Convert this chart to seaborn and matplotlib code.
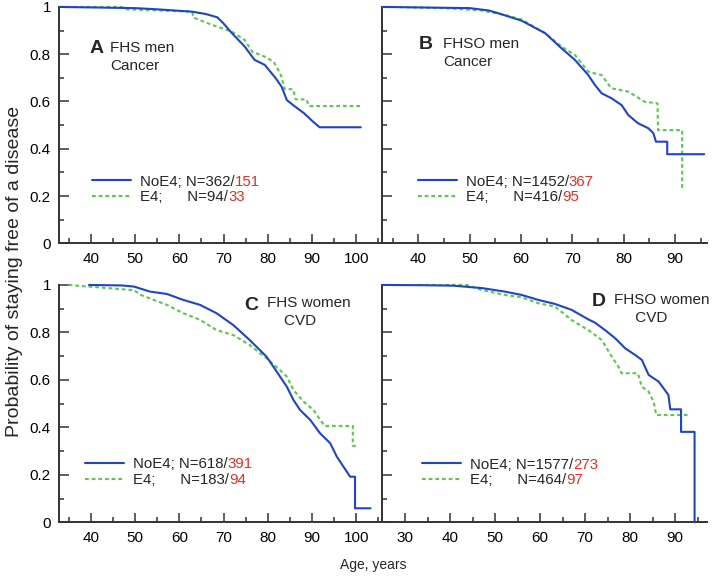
import numpy as np
import pandas as pd
import matplotlib
matplotlib.use("Agg")
import matplotlib.pyplot as plt
from matplotlib.ticker import MultipleLocator, FuncFormatter
from matplotlib.lines import Line2D
import seaborn as sns

# Kaplan-Meier curves (age, share still free of the disease);
# a repeated age is a vertical drop
a_noe4_age = [33.0, 50.0, 55.0, 62.9, 66.0, 68.6, 70.0, 71.9, 74.8, 77.0, 79.3, 81.8, 83.1, 84.3,
              85.7, 88.2, 90.2, 91.7, 101.0]
a_noe4_s = [1.0, 0.995, 0.99, 0.98, 0.97, 0.956, 0.93, 0.889, 0.832, 0.776, 0.755, 0.698, 0.663, 0.606,
            0.585, 0.55, 0.515, 0.491, 0.491]
a_e4_age = [33.0, 47.0, 48.0, 62.9, 63.2, 67.3, 71.9, 74.8, 75.8, 76.5, 79.3, 81.3, 82.3, 83.1,
            83.8, 85.7, 86.3, 88.7, 89.3, 101.0]
a_e4_s = [1.0, 1.0, 0.99, 0.98, 0.955, 0.925, 0.895, 0.86, 0.83, 0.81, 0.79, 0.768, 0.735, 0.705,
          0.652, 0.652, 0.609, 0.609, 0.581, 0.581]

b_noe4_age = [32.9, 50.0, 53.7, 55.6, 60.1, 64.7, 67.9, 70.5, 73.1, 74.4, 75.7, 77.6, 79.6, 80.9,
              82.8, 84.8, 85.8, 86.3, 88.5, 88.5, 95.7]
b_noe4_s = [1.0, 0.995, 0.985, 0.973, 0.942, 0.889, 0.825, 0.776, 0.712, 0.67, 0.635, 0.614, 0.585, 0.543,
            0.508, 0.487, 0.466, 0.43, 0.43, 0.377, 0.377]
b_e4_age = [35.0, 45.0, 52.3, 56.9, 60.1, 64.7, 67.9, 70.5, 73.1, 75.7, 77.6, 80.9, 84.1, 86.6,
            86.7, 91.4, 91.4]
b_e4_s = [1.0, 0.995, 0.985, 0.966, 0.947, 0.889, 0.832, 0.797, 0.726, 0.712, 0.656, 0.642, 0.599, 0.592,
          0.479, 0.479, 0.233]

c_noe4_age = [39.6, 47.0, 49.8, 53.4, 57.2, 60.9, 64.7, 68.4, 72.2, 75.9, 79.7, 82.0, 84.3, 85.8,
              87.3, 89.6, 91.8, 94.1, 95.6, 97.1, 98.6, 99.7, 99.7, 103.2]
c_noe4_s = [1.0, 0.998, 0.993, 0.972, 0.962, 0.937, 0.916, 0.881, 0.831, 0.768, 0.698, 0.635, 0.571, 0.515,
            0.473, 0.431, 0.375, 0.333, 0.276, 0.234, 0.192, 0.192, 0.059, 0.059]
c_e4_age = [35.0, 44.4, 49.8, 51.3, 57.2, 60.9, 64.7, 68.4, 72.2, 75.9, 79.7, 82.7, 84.3, 85.8,
            88.1, 90.3, 92.8, 99.2, 99.2, 100.2]
c_e4_s = [1.0, 0.986, 0.978, 0.958, 0.916, 0.881, 0.853, 0.81, 0.789, 0.747, 0.691, 0.642, 0.614, 0.557,
          0.508, 0.473, 0.406, 0.406, 0.322, 0.322]

d_noe4_age = [25.0, 33.3, 40.7, 47.0, 52.2, 55.9, 59.6, 63.3, 67.0, 70.7, 72.2, 74.4, 76.7, 78.9,
              81.1, 82.6, 84.1, 85.2, 86.3, 87.4, 88.5, 88.9, 91.3, 91.3, 94.3, 94.3]
d_noe4_s = [1.0, 0.999, 0.997, 0.987, 0.972, 0.958, 0.937, 0.92, 0.895, 0.855, 0.841, 0.81, 0.775, 0.733,
            0.705, 0.684, 0.621, 0.607, 0.593, 0.565, 0.536, 0.476, 0.476, 0.381, 0.381, 0.0]
d_e4_age = [33.0, 43.7, 47.0, 52.2, 55.9, 59.6, 63.3, 67.0, 70.7, 73.7, 75.9, 77.4, 78.1, 81.7,
            82.6, 84.1, 85.2, 85.8, 92.9]
d_e4_s = [1.0, 1.0, 0.979, 0.958, 0.948, 0.923, 0.909, 0.852, 0.81, 0.768, 0.698, 0.656, 0.628, 0.628,
          0.571, 0.55, 0.508, 0.452, 0.452]

panels = [
    dict(letter="A", title="FHS men\nCancer", xlim=(32.9, 105.8), ticks=(40, 100),
         noe4=(a_noe4_age, a_noe4_s), e4=(a_e4_age, a_e4_s),
         n_noe4=("362/", "151"), n_e4=("94/", "33"),
         lab_xy=(0.095, 0.825), title_xy=(0.158, 0.855), leg_xy=(0.102, 0.228)),
    dict(letter="B", title="FHSO men\nCancer", xlim=(32.9, 96.2), ticks=(40, 90),
         noe4=(b_noe4_age, b_noe4_s), e4=(b_e4_age, b_e4_s),
         n_noe4=("1452/", "367"), n_e4=("416/", "95"),
         lab_xy=(0.112, 0.842), title_xy=(0.188, 0.872), leg_xy=(0.110, 0.228)),
    dict(letter="C", title="FHS women\n    CVD", xlim=(32.9, 105.8), ticks=(40, 100),
         noe4=(c_noe4_age, c_noe4_s), e4=(c_e4_age, c_e4_s),
         n_noe4=("618/", "391"), n_e4=("183/", "94"),
         lab_xy=(0.573, 0.915), title_xy=(0.645, 0.952), leg_xy=(0.080, 0.212)),
    dict(letter="D", title="FHSO women\n     CVD", xlim=(24.9, 97.0), ticks=(30, 90),
         noe4=(d_noe4_age, d_noe4_s), e4=(d_e4_age, d_e4_s),
         n_noe4=("1577/", "273"), n_e4=("464/", "97"),
         lab_xy=(0.646, 0.93), title_xy=(0.715, 0.967), leg_xy=(0.122, 0.21)),
]

blue = "#1f45c4"
green = "#5dc84e"
red = "#d8352a"
axis_col = "#333333"
dash = (0, (1.8, 1.4))

sns.set_theme(style="ticks")
plt.rcParams["font.family"] = ["Liberation Sans", "DejaVu Sans"]

fig = plt.figure(figsize=(7.13, 5.78), dpi=100)
boxes = [
    [0.0832, 0.579, 0.4526, 0.409],
    [0.5358, 0.579, 0.4554, 0.409],
    [0.0832, 0.0964, 0.4526, 0.4106],
    [0.5358, 0.0964, 0.4554, 0.4106],
]

for i, (p, box) in enumerate(zip(panels, boxes)):
    ax = fig.add_axes(box)
    ax.set_facecolor("none")

    sns.lineplot(x=p["noe4"][0], y=p["noe4"][1], ax=ax, color=blue, lw=1.5,
                 estimator=None, sort=False, clip_on=False, zorder=4)
    sns.lineplot(x=p["e4"][0], y=p["e4"][1], ax=ax, color=green, lw=1.5,
                 linestyle=dash, estimator=None, sort=False, clip_on=False, zorder=3)

    ax.set_xlim(*p["xlim"])
    ax.set_ylim(0, 1)
    ax.xaxis.set_minor_locator(MultipleLocator(5))
    ax.yaxis.set_major_locator(MultipleLocator(0.2))
    ax.yaxis.set_minor_locator(MultipleLocator(0.1))
    ax.set_xticks(np.arange(p["ticks"][0], p["ticks"][1] + 1, 10))
    ax.yaxis.set_major_formatter(FuncFormatter(lambda v, _: f"{v:g}"))

    sns.despine(ax=ax)
    for s in ["left", "bottom"]:
        ax.spines[s].set_color(axis_col)
        ax.spines[s].set_linewidth(1.4)
    ax.tick_params(which="both", direction="in", color=axis_col, width=1.1,
                   labelsize=11, labelcolor="black")
    ax.tick_params(axis="x", which="major", length=6.5, pad=6)
    ax.tick_params(axis="x", which="minor", length=3.5)
    ax.tick_params(axis="y", which="major", length=7, pad=6)
    ax.tick_params(axis="y", which="minor", length=3.5)
    if i % 2 == 1:
        ax.tick_params(axis="y", labelleft=False)
    ax.set_xlabel("")
    ax.set_ylabel("")

    ax.text(*p["lab_xy"], p["letter"], transform=ax.transAxes, fontsize=14,
            fontweight="bold", ha="left", va="center")
    ax.text(*p["title_xy"], p["title"], transform=ax.transAxes,
            fontsize=11, ha="left", va="top", linespacing=1.35)

    handles = [Line2D([], [], color=blue, lw=1.5),
               Line2D([], [], color=green, lw=1.5, linestyle=dash)]
    labels = [f"NoE4; N={p['n_noe4'][0]}", f"E4;      N={p['n_e4'][0]}"]
    leg = ax.legend(handles, labels, loc="center left", bbox_to_anchor=p["leg_xy"],
                    frameon=False, fontsize=10.8, borderpad=0, borderaxespad=0,
                    handlelength=2.6, handletextpad=0.6, labelspacing=0.12)
    for txt, red_part in zip(leg.get_texts(), [p["n_noe4"][1], p["n_e4"][1]]):
        ax.annotate(red_part, xy=(1, 0), xycoords=txt, ha="left", va="bottom",
                    fontsize=10.8, color=red, zorder=6, annotation_clip=False)

fig.text(0.021, 0.531, "Probability of staying free of a disease", rotation=90,
         ha="center", va="center", fontsize=14)
fig.text(0.523, 0.0225, "Age, years", ha="center", va="center", fontsize=10)

fig.savefig("out.png", dpi=100)
